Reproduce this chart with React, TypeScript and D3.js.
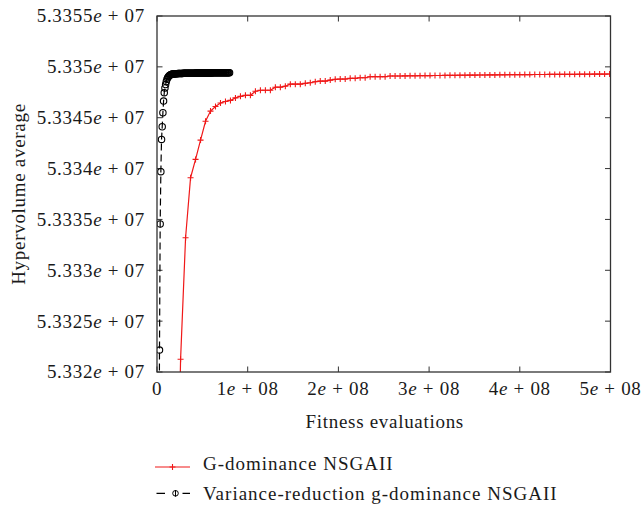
import React from "react";
import * as d3 from "d3";

// ---------- data ----------
const redStart = 1.5e7;
const redStep = 5.5e6;
const redValues = [
  53270000, 53295000,
  53321250, 53333200, 53339100, 53340900, 53342800, 53344650, 53345650, 53346100, 53346450, 53346600,
  53346700, 53346950, 53347100, 53347200, 53347200, 53347600, 53347700, 53347700, 53347700, 53348000,
  53348000, 53348100, 53348300, 53348300, 53348300, 53348380, 53348440, 53348540, 53348600, 53348600,
  53348700, 53348770, 53348800, 53348800, 53348870, 53348870, 53348930, 53348930, 53349030, 53349030,
  53349030, 53349030, 53349100, 53349100, 53349100,
  53349110, 53349120, 53349120, 53349130, 53349140, 53349140, 53349150, 53349150, 53349160, 53349170,
  53349170, 53349180, 53349180, 53349190, 53349190, 53349200, 53349200, 53349210, 53349210, 53349220,
  53349220, 53349230, 53349230, 53349230, 53349240, 53349240, 53349250, 53349250, 53349250, 53349260,
  53349260, 53349260, 53349270, 53349270, 53349270, 53349280, 53349280, 53349280, 53349290, 53349290,
  53349290, 53349300,
];

const blackStart = 2.0e6;
const blackStep = 0.75e6;
const blackValues = [
  53305000, 53322160, 53334550, 53339690, 53342870, 53344110, 53345490, 53346640, 53347460, 53347920,
  53348260, 53348550, 53348770, 53348920, 53349030, 53349110, 53349170, 53349210, 53349240, 53349270,
  53349290,
  53349300, 53349305, 53349310, 53349315, 53349320, 53349325, 53349330, 53349335, 53349340, 53349345,
  53349350, 53349352, 53349354, 53349356, 53349358, 53349360, 53349361, 53349363, 53349364, 53349366,
  53349367, 53349369, 53349370, 53349371, 53349373, 53349374, 53349375, 53349377, 53349378, 53349379,
  53349380, 53349381, 53349382, 53349384, 53349385, 53349386, 53349387, 53349388, 53349389, 53349390,
  53349391, 53349392, 53349393, 53349394, 53349395, 53349396, 53349397, 53349398, 53349399, 53349400,
  53349401, 53349402, 53349403, 53349404, 53349405, 53349406, 53349407, 53349408, 53349409, 53349410,
  53349411, 53349412, 53349413, 53349414, 53349415, 53349416, 53349417, 53349418, 53349419, 53349420,
  53349421, 53349422, 53349423, 53349424, 53349425, 53349426, 53349427, 53349428, 53349429, 53349430,
  53349430, 53349431, 53349432, 53349432,
];

const yTicks = [5.332e7, 5.3325e7, 5.333e7, 5.3335e7, 5.334e7, 5.3345e7, 5.335e7, 5.3355e7];
const yTickMantissas = ["5.332", "5.3325", "5.333", "5.3335", "5.334", "5.3345", "5.335", "5.3355"];
const yTickExp = "07";
const xTicks = [0, 1e8, 2e8, 3e8, 4e8, 5e8];
const xTickMantissas = ["0", "1", "2", "3", "4", "5"];
const xTickExp = "08";

const xTitle = "Fitness evaluations";
const yTitle = "Hypervolume average";
const seriesNames = ["G-dominance NSGAII", "Variance-reduction g-dominance NSGAII"];

// ---------- layout ----------
const W = 643;
const H = 507;
const L = 157, R = 610.5, T = 16, B = 372;
const FONT = "'Liberation Serif', 'Times New Roman', serif";
const FS = 19;
const LS = 0.7;
const RED = "#f01818";

export default function App() {
  const x = d3.scaleLinear().domain([0, 5e8]).range([L, R]);
  const y = d3.scaleLinear().domain([5.332e7, 5.3355e7]).range([B, T]);

  const red = redValues.map((v, i) => [redStart + i * redStep, v] as [number, number]);
  const black = blackValues.map((v, i) => [blackStart + i * blackStep, v] as [number, number]);

  const line = d3.line<[number, number]>().x((d) => x(d[0])).y((d) => y(d[1]));

  const tickLen = 5.5;
  const axisColor = "#333";

  const expLabel = (m: string, exp: string) =>
    m === "0" ? [<tspan key="m">0</tspan>] : [
      <tspan key="m">{m}</tspan>,
      <tspan key="e" fontStyle="italic">e</tspan>,
      <tspan key="r">{"\u00A0+\u00A0" + exp}</tspan>,
    ];

  return (
    <div style={{ position: "absolute", left: 0, top: 0 }}>
      <svg width={W} height={H} style={{ display: "block", background: "#fff" }}>
        <defs>
          <clipPath id="plotclip">
            <rect x={L} y={T} width={R - L} height={B - T} />
          </clipPath>
        </defs>

        {/* ticks (inward, mirrored) */}
        {yTicks.map((t, i) => (
          <g key={"yt" + i}>
            <line x1={L} x2={L + tickLen} y1={y(t)} y2={y(t)} stroke={axisColor} strokeWidth={1} />
            <line x1={R} x2={R - tickLen} y1={y(t)} y2={y(t)} stroke={axisColor} strokeWidth={1} />
          </g>
        ))}
        {xTicks.map((t, i) => (
          <g key={"xt" + i}>
            <line x1={x(t)} x2={x(t)} y1={B} y2={B - tickLen} stroke={axisColor} strokeWidth={1} />
            <line x1={x(t)} x2={x(t)} y1={T} y2={T + tickLen} stroke={axisColor} strokeWidth={1} />
          </g>
        ))}

        {/* data */}
        <g clipPath="url(#plotclip)">
          <path d={line(red) || ""} fill="none" stroke={RED} strokeWidth={1.2} />
          {red.map((d, i) => (
            <path
              key={"rm" + i}
              d={`M${x(d[0]) - 3},${y(d[1])}h6M${x(d[0])},${y(d[1]) - 3}v6`}
              stroke={RED}
              strokeWidth={1.1}
            />
          ))}
          <path d={line(black) || ""} fill="none" stroke="#000" strokeWidth={1.2} strokeDasharray="7,4" />
          {black.map((d, i) => (
            <circle key={"bm" + i} cx={x(d[0])} cy={y(d[1])} r={3.2} fill="none" stroke="#000" strokeWidth={1.1} />
          ))}
        </g>

        {/* frame */}
        <rect x={L} y={T} width={R - L} height={B - T} fill="none" stroke={axisColor} strokeWidth={1.3} />

        {/* tick labels */}
        <g fontFamily={FONT} fontSize={FS} fill="#1a1a1a" letterSpacing={LS} style={{ whiteSpace: "pre" }}>
          {yTicks.map((t, i) => (
            <text key={"yl" + i} x={145} y={y(t)} dy="0.34em" textAnchor="end">
              {expLabel(yTickMantissas[i], yTickExp)}
            </text>
          ))}
          {xTicks.map((t, i) => (
            <text key={"xl" + i} x={x(t)} y={395} textAnchor="middle">
              {expLabel(xTickMantissas[i], xTickExp)}
            </text>
          ))}
          <text x={(L + R) / 2 + 1} y={428} textAnchor="middle">{xTitle}</text>
          <text transform={`translate(25,${(T + B) / 2}) rotate(-90)`} textAnchor="middle">{yTitle}</text>
        </g>

        {/* legend */}
        <g fontFamily={FONT} fontSize={FS} fill="#1a1a1a" letterSpacing={1}>
          <line x1={155} x2={190} y1={467} y2={467} stroke={RED} strokeWidth={1.2} />
          <path d={`M${172.5 - 3},467h6M172.5,${467 - 3}v6`} stroke={RED} strokeWidth={1.1} />
          <text x={203} y={469.5}>{seriesNames[0]}</text>

          <line x1={156.5} x2={190} y1={493.3} y2={493.3} stroke="#000" strokeWidth={1.2} strokeDasharray="8.5,17.5,8" />
          <line x1={175.5} x2={175.5} y1={490} y2={496.6} stroke="#000" strokeWidth={1} />
          <circle cx={175.5} cy={493.3} r={2.8} fill="none" stroke="#000" strokeWidth={1} />
          <text x={203} y={500}>{seriesNames[1]}</text>
        </g>
      </svg>
    </div>
  );
}
